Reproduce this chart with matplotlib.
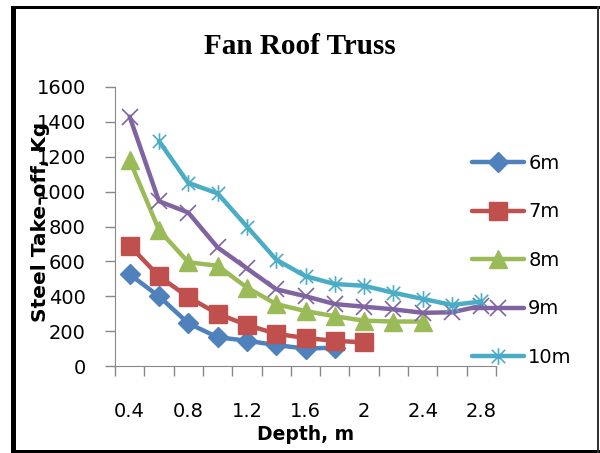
import matplotlib
matplotlib.use("Agg")
import matplotlib.pyplot as plt
import numpy as np
from matplotlib.path import Path
from matplotlib.patches import Rectangle

# Depth categories (m) and steel take-off (kg) per truss span
depth = ["0.4", "0.6", "0.8", "1", "1.2", "1.4", "1.6",
         "1.8", "2", "2.2", "2.4", "2.6", "2.8"]
steel_6m = [525, 400, 245, 165, 145, 120, 100, 105]
steel_7m = [690, 515, 395, 300, 235, 185, 160, 145, 135]
steel_8m = [1180, 780, 595, 575, 450, 355, 315, 285, 260, 255, 255]
steel_9m = [1430, 945, 880, 680, 560, 440, 400, 355, 340, 325, 305, 308, 345]
steel_10m = [np.nan, 1290, 1050, 990, 800, 610, 515, 470, 460, 420, 385, 350, 370]
span_labels = ["6m", "7m", "8m", "9m", "10m"]

# asterisk marker: X plus a vertical bar
star = Path([(-1, -1), (1, 1), (-1, 1), (1, -1), (0, -1.25), (0, 1.25)],
            [Path.MOVETO, Path.LINETO, Path.MOVETO, Path.LINETO,
             Path.MOVETO, Path.LINETO])

styles = [
    dict(color="#4F81BD", marker="D", ms=10),
    dict(color="#C0504D", marker="s", ms=13),
    dict(color="#9BBB59", marker="^", ms=13),
    dict(color="#8064A2", marker="x", ms=12, mew=1.2),
    dict(color="#4BACC6", marker=star, ms=12, mew=1.2),
]

W, H = 600, 453
fig = plt.figure(figsize=(W / 100, H / 100), dpi=100)
ax = fig.add_axes([115 / W, 1 - 366 / H, (496 - 115) / W, (366 - 87) / H])

series = [steel_6m, steel_7m, steel_8m, steel_9m, steel_10m]
for vals, lab, st in zip(series, span_labels, styles):
    x = np.arange(len(vals))
    ax.plot(x, vals, lw=3.2, label=lab, solid_capstyle="round", **st)

ax.set_xlim(-0.5, len(depth) - 0.5)
ax.set_ylim(0, 1600)
ax.set_yticks(np.arange(0, 1601, 200))

# category boundaries carry the tick marks, every other category gets a label
ax.set_xticks(np.arange(-0.5, len(depth)), labels=[])
ax.set_xticks(np.arange(0, len(depth), 2), minor=True)
ax.set_xticklabels(depth[::2], minor=True)
ax.tick_params(axis="x", which="minor", length=0, pad=26, labelsize=14)
ax.tick_params(axis="x", which="major", length=7, color="#888888", width=1)
ax.tick_params(axis="y", length=7, color="#888888", width=1, pad=14, labelsize=14)

for s in ["top", "right"]:
    ax.spines[s].set_visible(False)
for s in ["left", "bottom"]:
    ax.spines[s].set_color("#888888")

ax.set_ylabel("Steel Take-off, Kg", fontsize=14.5, fontweight="bold")
ax.yaxis.set_label_coords(-0.17, 0.518)
ax.set_xlabel("Depth, m", fontsize=13.5, fontweight="bold", labelpad=3)

fig.text(0.5, 1 - 46 / H, "Fan Roof Truss", ha="center", va="center",
         family="Liberation Serif", fontsize=21, fontweight="bold")

ax.legend(loc="upper left", bbox_to_anchor=(464 / W, 1 - 146 / H),
          bbox_transform=fig.transFigure, frameon=False, fontsize=14,
          handlelength=2.7, handletextpad=0.2, labelspacing=1.52,
          borderaxespad=0)

# outer border
def px_rect(x0, y0, x1, y1, color):
    fig.add_artist(Rectangle((x0 / W, 1 - y1 / H), (x1 - x0) / W, (y1 - y0) / H,
                             transform=fig.transFigure, color=color, lw=0))

px_rect(11, 6, 16, 453, "black")
px_rect(11, 6, 600, 9, "black")
px_rect(11, 450, 600, 453, "black")
px_rect(597, 6, 599, 453, "#333333")

fig.savefig("out.png", dpi=100, facecolor="white")
